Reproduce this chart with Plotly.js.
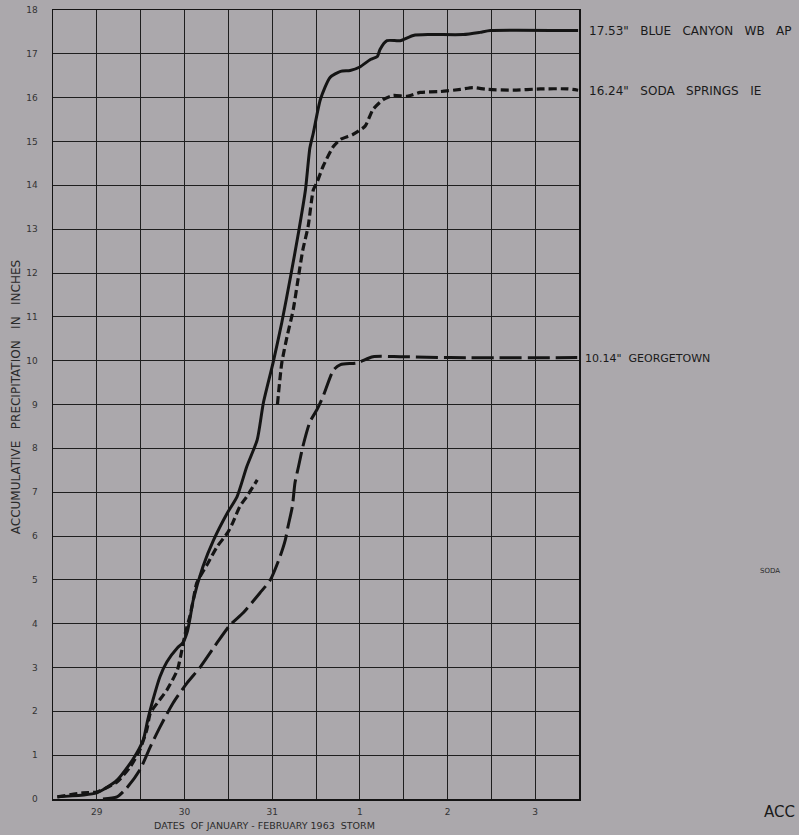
<!DOCTYPE html>
<html>
<head>
<meta charset="utf-8">
<script src="https://cdn.plot.ly/plotly-3.0.1.min.js"></script>
<style>
html,body{margin:0;padding:0;background:#aba8ac;}
#chart{width:799px;height:835px;}
</style>
</head>
<body>
<div id="chart"></div>
<script>
// Time axis: decimal day number (Jan 29 = 29, Jan 30 = 30, Jan 31 = 31, Feb 1 = 32, Feb 2 = 33, Feb 3 = 34)
const blueDays = [28.55,29.00,29.23,29.41,29.53,29.58,29.64,29.72,29.80,29.92,29.98,30.03,30.06,30.10,30.21,30.33,30.49,30.60,30.71,30.83,30.90,31.01,31.11,31.21,31.30,31.38,31.43,31.47,31.55,31.66,31.78,31.89,32.00,32.12,32.20,32.23,32.31,32.46,32.61,32.80,33.18,33.37,33.49,34.49];
const blueInches = [0.05,0.14,0.43,0.90,1.35,1.80,2.26,2.79,3.13,3.45,3.56,3.80,4.09,4.54,5.30,5.90,6.53,6.90,7.58,8.20,9.04,9.95,10.87,11.92,12.92,13.90,14.85,15.20,15.96,16.46,16.60,16.62,16.70,16.87,16.94,17.10,17.30,17.30,17.42,17.44,17.44,17.49,17.53,17.53];

const sodaDays = [28.55,28.84,29.00,29.23,29.38,29.49,29.57,29.61,29.69,29.80,29.92,29.97,30.01,30.06,30.10,30.14,30.27,30.37,30.49,30.55,30.63,30.71,30.83,30.94,31.06,31.11,31.17,31.24,31.30,31.35,31.41,31.47,31.51,31.58,31.70,31.78,31.92,32.06,32.15,32.27,32.38,32.54,32.69,32.92,33.15,33.29,33.45,33.75,34.06,34.37,34.49];
const sodaInches = [0.05,0.14,0.16,0.39,0.73,1.12,1.58,1.96,2.19,2.49,2.95,3.40,3.79,4.16,4.54,4.93,5.39,5.75,6.07,6.30,6.67,6.90,7.28,null,9.00,9.95,10.55,11.16,11.92,12.53,13.06,13.90,14.06,14.43,14.89,15.05,15.16,15.35,15.73,15.96,16.05,16.03,16.12,16.14,16.19,16.23,16.19,16.17,16.20,16.20,16.17];

const georgeDays = [29.07,29.23,29.34,29.49,29.61,29.72,29.87,30.03,30.18,30.37,30.52,30.67,30.86,30.98,31.09,31.15,31.18,31.23,31.26,31.30,31.35,31.43,31.51,31.58,31.70,31.78,31.97,32.15,32.46,33.03,34.48];
const georgeInches = [0.00,0.05,0.25,0.66,1.19,1.64,2.19,2.65,3.01,3.56,3.97,4.25,4.70,5.00,5.53,5.91,6.21,6.67,7.21,7.58,8.04,8.60,8.88,9.18,9.79,9.91,9.95,10.09,10.09,10.07,10.07];

const xTickVals = [28.5,29,29.5,30,30.5,31,31.5,32,32.5,33,33.5,34,34.5];
const xTickText = ['','29','','30','','31','','1','','2','','3',''];
const yTickVals = [0,1,2,3,4,5,6,7,8,9,10,11,12,13,14,15,16,17,18];

const sp3 = '&nbsp;&nbsp;&nbsp;';
const sp2 = '&nbsp;&nbsp;';
const stationLabels = ['17.53"' + sp3 + 'BLUE' + sp3 + 'CANYON' + sp3 + 'WB' + sp3 + 'AP',
                       '16.24"' + sp3 + 'SODA' + sp3 + 'SPRINGS' + sp3 + 'IE',
                       '10.14"' + sp2 + 'GEORGETOWN'];
const stationLabelY = [17.53, 16.16, 10.05];
const stationLabelShift = [8, 8, 4];
const stationLabelSize = [12, 12, 11];

const ink = '#141414';
const bg = '#aba8ac';
const fontFam = 'DejaVu Sans, sans-serif';

const traces = [
  {x: blueDays, y: blueInches, mode: 'lines', line: {color: ink, width: 3, shape: 'spline', smoothing: 0.6}, name: 'Blue Canyon WB AP'},
  {x: sodaDays, y: sodaInches, mode: 'lines', connectgaps: false, line: {color: ink, width: 3.2, dash: '8px,4px', shape: 'spline', smoothing: 0.6}, name: 'Soda Springs 1E'},
  {x: georgeDays, y: georgeInches, mode: 'lines', line: {color: ink, width: 3, dash: '22px,6px', shape: 'spline', smoothing: 0.6}, name: 'Georgetown'}
];

const annotations = stationLabels.map((t, i) => ({
  text: t, xref: 'paper', x: 1, xshift: stationLabelShift[i], xanchor: 'left',
  yref: 'y', y: stationLabelY[i], yanchor: 'middle', showarrow: false,
  font: {family: fontFam, size: stationLabelSize[i], color: '#1a1a1a'}
}));
annotations.push({
  text: 'DATES&nbsp;&nbsp;OF JANUARY - FEBRUARY 1963&nbsp;&nbsp;STORM',
  xref: 'paper', x: 0.403, xanchor: 'center', yref: 'paper', y: -0.034, yanchor: 'middle',
  showarrow: false, font: {family: fontFam, size: 9.5, color: '#2a2a2a'}
});
annotations.push({
  text: 'ACCUMULATIVE' + sp3 + 'PRECIPITATION' + sp3 + 'IN' + sp3 + 'INCHES',
  xref: 'paper', x: -0.07, xanchor: 'center', yref: 'paper', y: 0.5095, yanchor: 'middle',
  textangle: -90, showarrow: false, font: {family: fontFam, size: 12, color: '#2a2a2a'}
});
annotations.push({
  text: 'SODA', xref: 'paper', x: 1.363, xanchor: 'center', yref: 'paper', y: 0.289, yanchor: 'middle',
  showarrow: false, font: {family: fontFam, size: 7, color: '#2a2a2a'}
});
annotations.push({
  text: 'ACC', xref: 'paper', x: 1.347, xanchor: 'left', yref: 'paper', y: -0.0165, yanchor: 'middle',
  showarrow: false, font: {family: fontFam, size: 15, color: '#1a1a1a'}
});

const layout = {
  width: 799, height: 835,
  margin: {l: 53, r: 220, t: 10, b: 36, pad: 0},
  paper_bgcolor: bg, plot_bgcolor: bg,
  showlegend: false,
  font: {family: fontFam, color: '#222'},
  xaxis: {
    range: [28.5, 34.5], tickmode: 'array', tickvals: xTickVals, ticktext: xTickText,
    showgrid: true, gridcolor: '#1e1e1e', gridwidth: 1, zeroline: false,
    showline: true, linecolor: ink, linewidth: 1.5, mirror: true,
    ticks: '', tickfont: {size: 9, color: '#333'}, ticklabelstandoff: 4
  },
  yaxis: {
    range: [0, 18], tickmode: 'array', tickvals: yTickVals,
    showgrid: true, gridcolor: '#1e1e1e', gridwidth: 1, zeroline: false,
    showline: true, linecolor: ink, linewidth: 1.5, mirror: true,
    ticks: '', tickfont: {size: 9, color: '#333'}, ticklabelstandoff: 12
  },
  annotations: annotations
};

Plotly.newPlot('chart', traces, layout, {staticPlot: true, displayModeBar: false});
</script>
</body>
</html>
